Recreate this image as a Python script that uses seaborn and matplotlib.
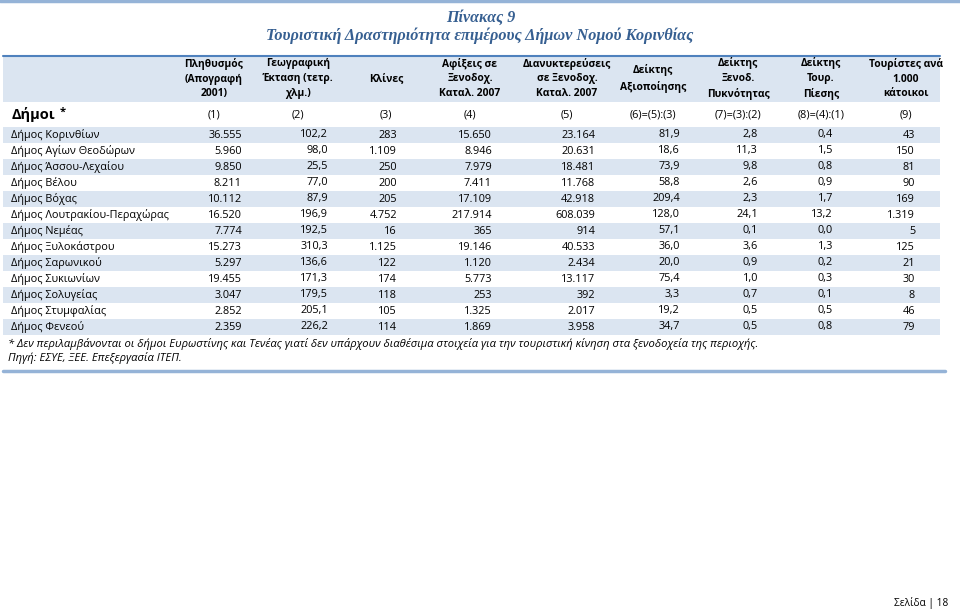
import numpy as np
import matplotlib
matplotlib.use("Agg")
import matplotlib.pyplot as plt
from matplotlib.colors import ListedColormap
import seaborn as sns

# table data (Πίνακας 9)
municipalities = ["Κορινθίων", "Αγίων Θεοδώρων", "Άσσου-Λεχαίου", "Βέλου", "Βόχας",
                  "Λουτρακίου-Περαχώρας", "Νεμέας", "Ξυλοκάστρου", "Σαρωνικού",
                  "Συκιωνίων", "Σολυγείας", "Στυμφαλίας", "Φενεού"]
population = [36555, 5960, 9850, 8211, 10112, 16520, 7774, 15273, 5297, 19455, 3047, 2852, 2359]
area = [102.2, 98.0, 25.5, 77.0, 87.9, 196.9, 192.5, 310.3, 136.6, 171.3, 179.5, 205.1, 226.2]
beds = [283, 1109, 250, 200, 205, 4752, 16, 1125, 122, 174, 118, 105, 114]
arrivals = [15650, 8946, 7979, 7411, 17109, 217914, 365, 19146, 1120, 5773, 253, 1325, 1869]
overnights = [23164, 20631, 18481, 11768, 42918, 608039, 914, 40533, 2434, 13117, 392, 2017, 3958]
utilisation = [81.9, 18.6, 73.9, 58.8, 209.4, 128.0, 57.1, 36.0, 20.0, 75.4, 3.3, 19.2, 34.7]
density = [2.8, 11.3, 9.8, 2.6, 2.3, 24.1, 0.1, 3.6, 0.9, 1.0, 0.7, 0.5, 0.5]
pressure = [0.4, 1.5, 0.8, 0.9, 1.7, 13.2, 0.0, 1.3, 0.2, 0.3, 0.1, 0.5, 0.8]
per_1000 = [43, 150, 81, 90, 169, 1319, 5, 125, 21, 30, 8, 46, 79]

headers = ["Πληθυσμός\n(Απογραφή\n2001)", "Γεωγραφική\nΈκταση (τετρ.\nχλμ.)", "Κλίνες",
           "Αφίξεις σε\nΞενοδοχ.\nΚαταλ. 2007", "Διανυκτερεύσεις\nσε Ξενοδοχ.\nΚαταλ. 2007",
           "Δείκτης\nΑξιοποίησης", "Δείκτης\nΞενοδ.\nΠυκνότητας", "Δείκτης\nΤουρ.\nΠίεσης",
           "Τουρίστες ανά\n1.000\nκάτοικοι"]
codes = ["(1)", "(2)", "(3)", "(4)", "(5)", "(6)=(5):(3)", "(7)=(3):(2)", "(8)=(4):(1)", "(9)"]

title = "Πίνακας 9"
subtitle = "Τουριστική Δραστηριότητα επιμέρους Δήμων Νομού Κορινθίας"
note1 = "* Δεν περιλαμβάνονται οι δήμοι Ευρωστίνης και Τενέας γιατί δεν υπάρχουν διαθέσιμα στοιχεία για την τουριστική κίνηση στα ξενοδοχεία της περιοχής."
note2 = "Πηγή: ΕΣΥΕ, ΞΕΕ. Επεξεργασία ΙΤΕΠ."


def gr(v, dec):
    # greek number format: dot thousands, comma decimals
    s = f"{v:,.{dec}f}"
    return s.replace(",", "X").replace(".", ",").replace("X", ".")


def main():
    sns.set_theme(style="white")
    plt.rcParams['font.family'] = ['Open Sans', 'DejaVu Sans']
    plt.rcParams['text.color'] = 'black'

    W, H = 960, 610
    fig = plt.figure(figsize=(9.6, 6.1), dpi=100)

    light = "#dbe5f1"
    dark = "#4f81bd"
    mid = "#95b3d7"

    # striped body rows with a seaborn heatmap
    x0, x1 = 3, 940
    top, rh = 127, 16
    n = len(municipalities)
    stripes = np.array([[i % 2] for i in range(n)])
    ax_s = fig.add_axes([x0 / W, 1 - (top + n * rh) / H, (x1 - x0) / W, n * rh / H])
    sns.heatmap(stripes, cmap=ListedColormap([light, "white"]), cbar=False,
                xticklabels=False, yticklabels=False, ax=ax_s, vmin=0, vmax=1)
    ax_s.axis("off")

    # overlay axes in pixel units
    ax = fig.add_axes([0, 0, 1, 1])
    ax.set_xlim(0, W)
    ax.set_ylim(H, 0)
    ax.patch.set_alpha(0)
    ax.axis("off")

    ax.plot([0, W], [1.2, 1.2], color=mid, lw=2.5)
    tcol = "#365f91"
    ax.text(481, 18, title, ha="center", va="center", fontsize=11.5, color=tcol,
            family="Liberation Serif", weight="bold", style="italic")
    ax.text(480, 36, subtitle, ha="center", va="center", fontsize=11.7, color=tcol,
            family="Liberation Serif", weight="bold", style="italic")

    # header band
    ax.fill_between([x0, x1], 56, 102, color=light, lw=0)
    ax.plot([x0, x1], [56, 56], color=dark, lw=1.5)

    centers = [214, 298, 386, 470, 567, 653, 738, 821, 906]
    for c, h, code in zip(centers, headers, codes):
        ax.text(c, 78.5, h, ha="center", va="center", fontsize=7.4, weight="bold",
                linespacing=1.45)
        ax.text(c, 115, code, ha="center", va="center", fontsize=7.8)
    ax.text(12, 115, "Δήμοι", ha="left", va="center", fontsize=10.5, weight="bold")
    ax.text(60, 112, "*", ha="left", va="center", fontsize=8, weight="bold")

    cols = [(population, 0), (area, 1), (beds, 0), (arrivals, 0), (overnights, 0),
            (utilisation, 1), (density, 1), (pressure, 1), (per_1000, 0)]
    rights = [242, 328, 397, 492, 595, 680, 758, 833, 915]
    for i, name in enumerate(municipalities):
        y = top + rh * i + rh / 2
        ax.text(11, y, "Δήμος " + name, ha="left", va="center", fontsize=7.8)
        for (vals, dec), r in zip(cols, rights):
            ax.text(r, y, gr(vals[i], dec), ha="right", va="center", fontsize=7.8)

    ax.text(8, 344, note1, ha="left", va="center", fontsize=8.1, style="italic")
    ax.text(8, 358, note2, ha="left", va="center", fontsize=8.1, style="italic")
    ax.plot([x0, 945], [371, 371], color=mid, lw=2.5)

    ax.text(948, 603, "Σελίδα | 18", ha="right", va="center", fontsize=7.3)

    plt.savefig("out.png", dpi=100)


if __name__ == '__main__':
    main()
